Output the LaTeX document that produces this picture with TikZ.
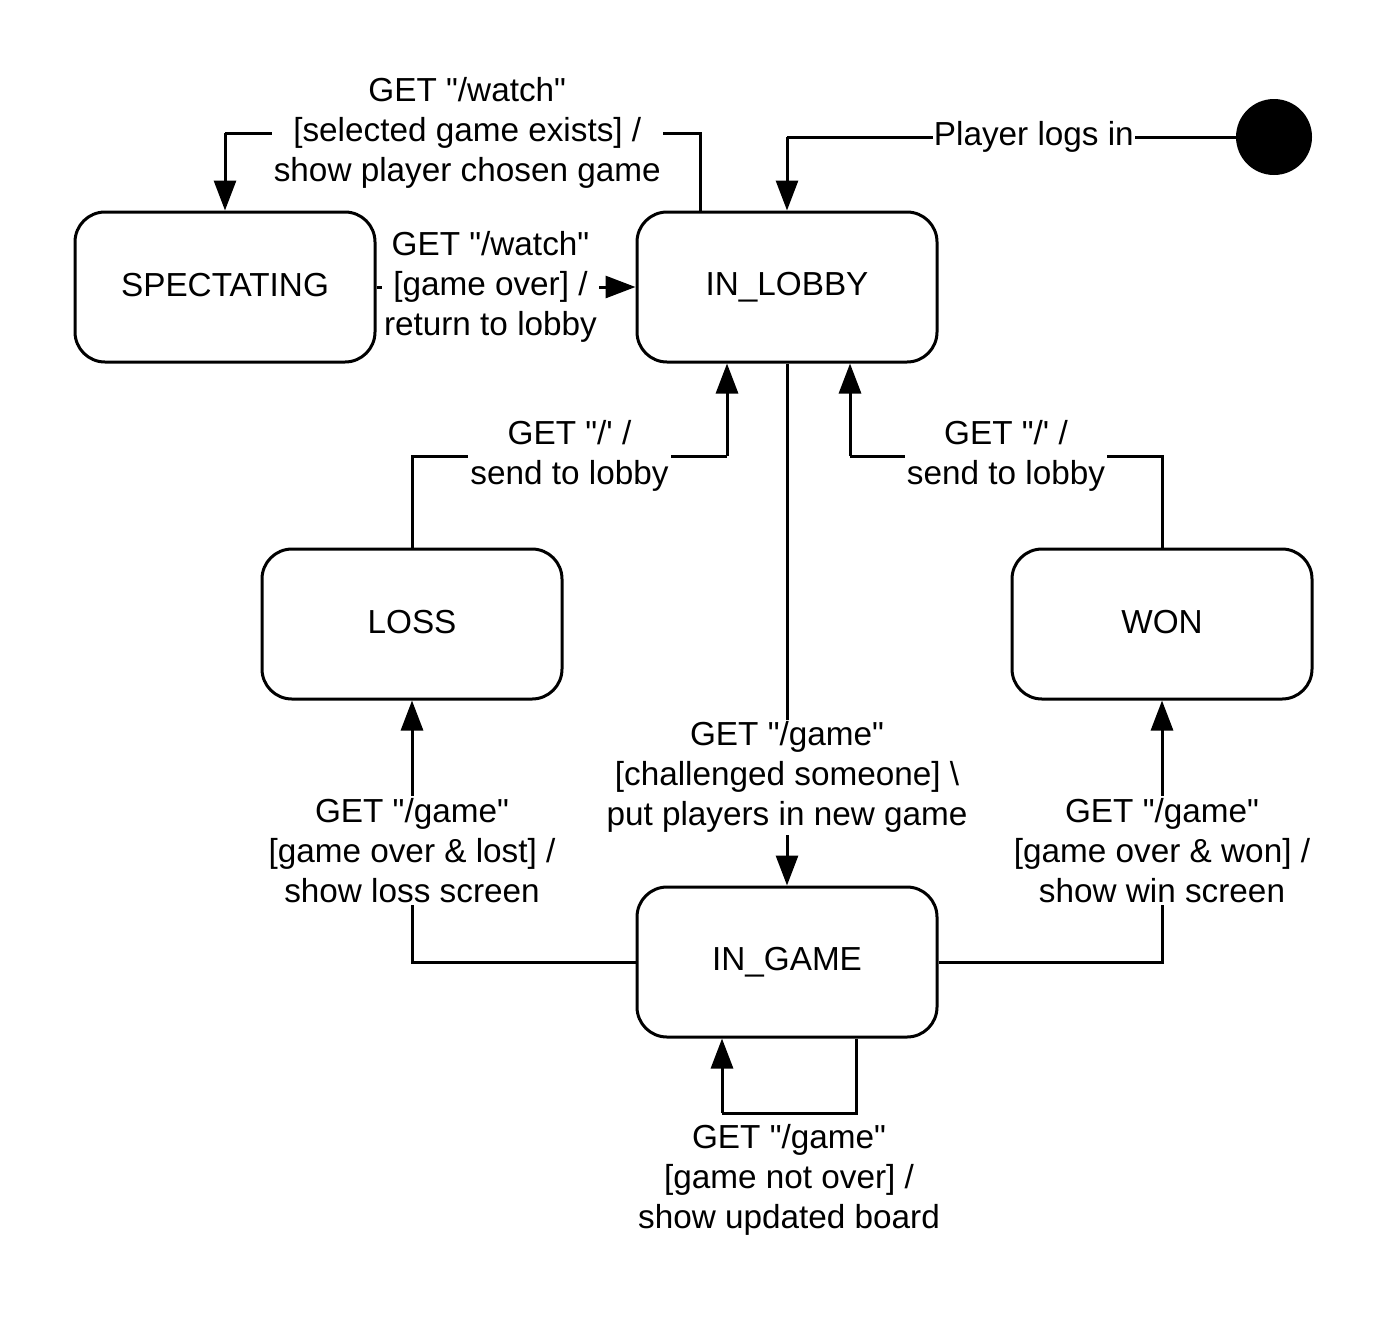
\documentclass[tikz,border=0pt]{standalone}
\usepackage{fontspec}
\setmainfont{Liberation Sans}
\usetikzlibrary{arrows.meta,positioning}

\begin{document}
\begin{tikzpicture}[x=1pt,y=-1pt,font=\fontsize{33.3}{40}\selectfont,
  st/.style={rectangle,rounded corners=30pt,draw=black,line width=3pt,minimum width=300pt,minimum height=150pt,inner sep=0pt},
  tr/.style={line width=3pt,-{Triangle[length=30pt,width=22pt]}},
  lbl/.style={fill=white,align=center,inner sep=2pt}]
\useasboundingbox (0,0) rectangle (1388,1318);
% Estados del juego (centros fijos).
\node[st] (sSpec) at (225,287) {\raisebox{4pt}{SPECTATING}};
\node[st] (sLobby) at (787,287) {\raisebox{4pt}{IN\_LOBBY}};
\node[st] (sLoss) at (412,624) {\raisebox{4pt}{LOSS}};
\node[st] (sWon) at (1162,624) {\raisebox{4pt}{WON}};
\node[st] (sGame) at (787,962) {\raisebox{4pt}{IN\_GAME}};
\node[circle,fill=black,minimum size=76pt,inner sep=0pt] (nIni) at (1274,137) {};
\coordinate (cLogin) at (787,137);
\coordinate (cWatch) at (225,133);
\coordinate (cLoss) at (727,456);
\coordinate (cWon) at (850,456);
\coordinate (cLoop) at (722,1113);
% Transiciones.
\draw[line width=3pt] (nIni.west) -- node[lbl,inner sep=1pt,pos=0.45]{Player logs in} (cLogin);
\draw[tr] (cLogin) -- (sLobby.north);
\draw[line width=3pt] ([xshift=-87pt]sLobby.north) |- node[lbl,pos=0.745]{GET \textquotedbl/watch\textquotedbl\\{}[selected game exists] /\\show player chosen game} (cWatch);
\draw[tr] (cWatch) -- (sSpec.north);
\draw[tr] (sSpec) -- node[lbl,pos=0.44]{GET \textquotedbl/watch\textquotedbl\\{}[game over] /\\return to lobby} (sLobby);
\draw[tr] (sLobby) -- node[lbl,pos=0.785,yshift=-4pt]{GET \textquotedbl/game\textquotedbl\\{}[challenged someone] \textbackslash\\put players in new game} (sGame);
\draw[tr] (sGame.west) -| node[lbl,pos=0.713]{GET \textquotedbl/game\textquotedbl\\{}[game over \& lost] /\\show loss screen} (sLoss.south);
\draw[tr] (sGame.east) -| node[lbl,pos=0.713]{GET \textquotedbl/game\textquotedbl\\{}[game over \& won] /\\show win screen} (sWon.south);
\draw[line width=3pt] (sLoss.north) |- node[lbl,pos=0.75]{GET \textquotedbl/\textquotesingle{} /\\send to lobby} (cLoss);
\draw[tr] (cLoss) -- ([xshift=-60pt]sLobby.south);
\draw[line width=3pt] (sWon.north) |- node[lbl,pos=0.75]{GET \textquotedbl/\textquotesingle{} /\\send to lobby} (cWon);
\draw[tr] (cWon) -- ([xshift=63pt]sLobby.south);
\draw[line width=3pt] ([xshift=69pt]sGame.south) |- node[lbl,below,pos=0.75,yshift=-8pt]{GET \textquotedbl/game\textquotedbl\\{}[game not over] /\\show updated board} (cLoop);
\draw[tr] (cLoop) -- ([xshift=-65pt]sGame.south);
\end{tikzpicture}
\end{document}
